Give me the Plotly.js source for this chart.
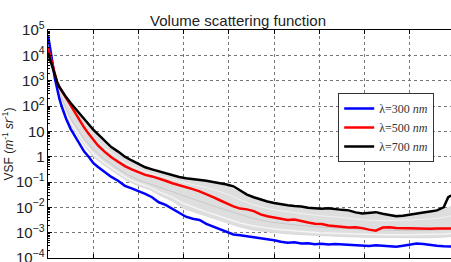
<!DOCTYPE html>
<html>
<head>
<meta charset="utf-8">
<script src="https://cdn.plot.ly/plotly-3.0.1.min.js"></script>
<style>
  html, body { margin: 0; padding: 0; overflow: hidden; background: #fff; }
  #chart { width: 465px; height: 288px; }
</style>
</head>
<body>
<div id="chart"></div>
<script>
// Scattering angle (degrees) for the three highlighted wavelengths
const angles = [0, 1, 2, 3, 4, 5, 6, 8, 10, 12, 14, 16, 18, 20, 22, 25, 28, 31, 34, 37,
  40, 43, 46, 49, 52, 55, 58, 61, 64, 67, 70, 73, 76, 79, 82, 85, 88, 91, 94, 97,
  100, 103, 106, 109, 112, 115, 118, 121, 124, 127, 130, 133, 136, 139, 142, 145,
  148, 151, 154, 157, 160, 163, 166, 169, 172, 175, 177, 178, 180];

// log10 of VSF (m^-1 sr^-1) at each angle
const log300 = [4.8, 4.3, 3.7, 3.1, 2.65, 2.3, 2.0, 1.5, 1.1, 0.8, 0.45, 0.2, 0.0, -0.25, -0.4, -0.6, -0.8, -0.95, -1.15, -1.25,
  -1.35, -1.47, -1.6, -1.8, -1.9, -2.05, -2.2, -2.37, -2.45, -2.5, -2.65, -2.75, -2.88, -2.98, -3.07, -3.1, -3.15, -3.18, -3.22, -3.25,
  -3.3, -3.36, -3.4, -3.38, -3.43, -3.42, -3.46, -3.44, -3.47, -3.45, -3.47, -3.46, -3.5, -3.52, -3.53, -3.5,
  -3.52, -3.54, -3.56, -3.52, -3.46, -3.43, -3.45, -3.5, -3.52, -3.54, -3.55, -3.55, -3.55];

const log500 = [4.3, 3.95, 3.55, 3.2, 2.95, 2.75, 2.6, 2.3, 2.0, 1.7, 1.4, 1.15, 0.9, 0.65, 0.45, 0.2, -0.02, -0.2, -0.37, -0.5,
  -0.62, -0.72, -0.78, -0.85, -0.95, -1.05, -1.12, -1.2, -1.28, -1.37, -1.5, -1.6, -1.72, -1.85, -1.96, -2.05, -2.08, -2.15, -2.28, -2.35,
  -2.4, -2.45, -2.5, -2.48, -2.55, -2.6, -2.65, -2.66, -2.72, -2.74, -2.76, -2.8, -2.79, -2.82, -2.88, -2.92,
  -2.8, -2.79, -2.82, -2.83, -2.84, -2.85, -2.84, -2.85, -2.84, -2.84, -2.84, -2.84, -2.84];

const log700 = [4.1, 3.8, 3.45, 3.15, 2.95, 2.75, 2.6, 2.35, 2.12, 1.9, 1.7, 1.5, 1.28, 1.07, 0.9, 0.65, 0.38, 0.2, 0.0, -0.15,
  -0.3, -0.42, -0.5, -0.58, -0.65, -0.72, -0.8, -0.85, -0.88, -0.91, -0.95, -1.0, -1.04, -1.1, -1.17, -1.35, -1.5, -1.6, -1.7, -1.77,
  -1.83, -1.89, -1.92, -1.95, -1.97, -2.02, -2.05, -2.06, -2.04, -2.08, -2.1, -2.12, -2.2, -2.24, -2.22, -2.19,
  -2.25, -2.3, -2.35, -2.33, -2.28, -2.22, -2.2, -2.16, -2.12, -2.0, -1.6, -1.55, -1.5];

// Remaining wavelengths: envelope and a few representative curves (log10 VSF)
const grayAngles = [0, 2, 4, 6, 8, 10, 13, 16, 20, 25, 30, 35, 40, 45, 50, 55, 60, 65, 70, 75,
  80, 85, 90, 95, 100, 110, 120, 130, 140, 150, 160, 170, 175, 180];
const grayTop = [4.75, 3.65, 2.93, 2.57, 2.3, 2.07, 1.75, 1.45, 1.0, 0.6, 0.22, -0.1, -0.35, -0.5, -0.65, -0.77, -0.88, -0.95, -1.0, -1.08,
  -1.2, -1.4, -1.62, -1.76, -1.86, -1.98, -2.08, -2.13, -2.26, -2.3, -2.3, -2.2, -2.1, -1.9];
const grayBottom = [4.1, 3.45, 2.7, 2.05, 1.6, 1.25, 0.85, 0.45, 0.0, -0.35, -0.65, -0.95, -1.15, -1.3, -1.55, -1.75, -2.05, -2.2, -2.35, -2.5,
  -2.65, -2.78, -2.88, -2.95, -3.0, -3.07, -3.12, -3.15, -3.18, -3.2, -3.2, -3.2, -3.18, -3.15];
const grayA = [4.2, 3.5, 2.92, 2.5, 2.2, 1.9, 1.55, 1.2, 0.75, 0.35, 0.0, -0.3, -0.5, -0.65, -0.78, -0.9, -1.02, -1.12, -1.22, -1.35,
  -1.5, -1.7, -1.88, -2.0, -2.1, -2.22, -2.33, -2.4, -2.5, -2.52, -2.5, -2.45, -2.4, -2.3];
const grayB = [4.5, 3.6, 2.8, 2.3, 1.9, 1.5, 1.1, 0.7, 0.3, -0.1, -0.42, -0.7, -0.92, -1.08, -1.22, -1.38, -1.55, -1.7, -1.85, -2.0,
  -2.15, -2.3, -2.42, -2.52, -2.6, -2.7, -2.78, -2.82, -2.88, -2.9, -2.92, -2.9, -2.88, -2.85];
const grayC = [4.65, 3.55, 2.75, 2.15, 1.72, 1.35, 0.95, 0.55, 0.12, -0.25, -0.55, -0.85, -1.05, -1.2, -1.42, -1.6, -1.85, -2.02, -2.18, -2.32,
  -2.48, -2.62, -2.72, -2.8, -2.86, -2.93, -3.0, -3.03, -3.06, -3.08, -3.08, -3.07, -3.05, -3.02];

const legendNames = ['λ=300 <i>nm</i>', 'λ=500 <i>nm</i>', 'λ=700 <i>nm</i>'];
const toVsf = arr => arr.map(v => Math.pow(10, v));

const traces = [
  { x: grayAngles, y: toVsf(grayBottom), mode: 'lines', line: { color: '#dadada', width: 1 }, showlegend: false, hoverinfo: 'skip' },
  { x: grayAngles, y: toVsf(grayTop), mode: 'lines', line: { color: '#dadada', width: 1 }, fill: 'tonexty', fillcolor: '#dedede', showlegend: false, hoverinfo: 'skip' },
  { x: grayAngles, y: toVsf(grayA), mode: 'lines', line: { color: '#f2f2f2', width: 1 }, showlegend: false, hoverinfo: 'skip' },
  { x: grayAngles, y: toVsf(grayB), mode: 'lines', line: { color: '#c9c9c9', width: 1 }, showlegend: false, hoverinfo: 'skip' },
  { x: grayAngles, y: toVsf(grayC), mode: 'lines', line: { color: '#f4f4f4', width: 1.5 }, showlegend: false, hoverinfo: 'skip' },
  { x: angles, y: toVsf(log300), name: legendNames[0], mode: 'lines', line: { color: '#0000ff', width: 2.5 } },
  { x: angles, y: toVsf(log500), name: legendNames[1], mode: 'lines', line: { color: '#ff0000', width: 2.5 } },
  { x: angles, y: toVsf(log700), name: legendNames[2], mode: 'lines', line: { color: '#000000', width: 2.5 } }
];

const axisCommon = {
  showline: true, mirror: 'allticks', linecolor: '#000', linewidth: 1,
  ticks: 'inside', ticklen: 4, tickcolor: '#000',
  showgrid: true, gridcolor: '#777', griddash: 'dot', gridwidth: 1,
  zeroline: false,
  tickfont: { family: 'Liberation Sans, Arial, sans-serif', size: 12, color: '#222' }
};

const layout = {
  width: 465, height: 288,
  margin: { l: 48, r: 10, t: 30, b: 30 },
  paper_bgcolor: '#fff', plot_bgcolor: '#fff',
  title: {
    text: 'Volume scattering function',
    font: { family: 'Liberation Sans, Arial, sans-serif', size: 15, color: '#222' },
    xref: 'paper', x: 0.467, xanchor: 'center',
    yref: 'container', y: 1 - 21 / 288, yanchor: 'middle'
  },
  xaxis: Object.assign({}, axisCommon, { range: [0, 180], dtick: 20, tick0: 0 }),
  yaxis: Object.assign({}, axisCommon, {
    type: 'log', range: [-4, 5], dtick: 1, exponentformat: 'power',
    minor: { ticks: 'inside', ticklen: 2, tickcolor: '#000', dtick: 'D1', showgrid: false },
    title: {
      text: 'VSF (<i>m</i><sup>-1</sup> <i>sr</i><sup>-1</sup>)',
      font: { family: 'Liberation Sans, Arial, sans-serif', size: 12, color: '#222' },
      standoff: 4
    }
  }),
  legend: {
    x: 0.713, y: 0.724, xanchor: 'left', yanchor: 'top',
    traceorder: 'normal',
    bgcolor: '#fff', bordercolor: '#333', borderwidth: 1,
    font: { family: 'Liberation Serif, serif', size: 12, color: '#333' }
  },
  showlegend: true
};

Plotly.newPlot('chart', traces, layout, { displayModeBar: false, staticPlot: true });
</script>
</body>
</html>
